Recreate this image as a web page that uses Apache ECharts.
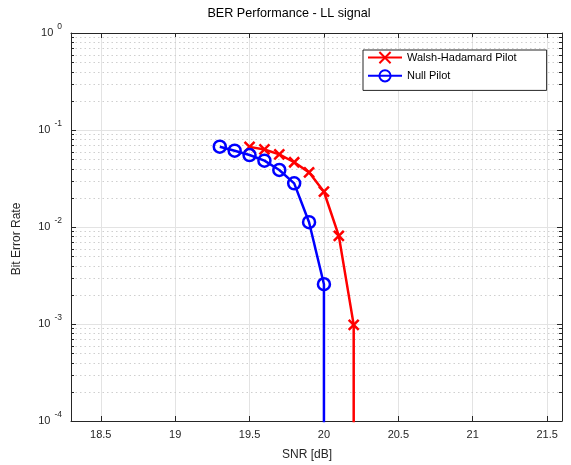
<!DOCTYPE html>
<html><head><meta charset="utf-8">
<script src="https://cdn.jsdelivr.net/npm/echarts@6.0.0/dist/echarts.min.js"></script>
<style>html,body{margin:0;padding:0;background:#fff}#c{width:571px;height:465px}</style>
</head><body><div id="c"></div>
<script>
// ---- data ----
const snrWH = [19.5, 19.6, 19.7, 19.8, 19.9, 20.0, 20.1, 20.2];
const berWH = [0.067, 0.063, 0.056, 0.0465, 0.0366, 0.0231, 0.0081, 0.00098];
const snrNull = [19.3, 19.4, 19.5, 19.6, 19.7, 19.8, 19.9, 20.0];
const berNull = [0.0673, 0.0612, 0.0552, 0.0483, 0.0387, 0.0282, 0.0112, 0.00257];
const berFloor = 1e-7; // BER falls to zero after the last measured point
const seriesNames = ['Walsh-Hadamard Pilot', 'Null Pilot'];
const titleText = 'BER Performance - LL signal';
const xName = 'SNR [dB]';
const yName = 'Bit Error Rate';
const xRange = [18.3, 21.6];
const yRange = [1e-4, 1];
const decades = [1e-4, 1e-3, 1e-2, 1e-1];
const minorMultipliers = [2, 3, 4, 5, 6, 7, 8, 9];

const axisColor = '#262626';
const minorY = [];
decades.forEach(d => minorMultipliers.forEach(m => minorY.push(m * d)));

function pts(snr, ber) {
  const d = snr.map((x, i) => [x, ber[i]]);
  d.push({ value: [snr[snr.length - 1], berFloor], symbol: 'none' });
  return d;
}
const chart = echarts.init(document.getElementById('c'), null, { renderer: 'canvas' });
const font = 'Liberation Sans, Arial, Helvetica, sans-serif';
const xBase = {
  type: 'value', min: xRange[0], max: xRange[1], splitNumber: 7,
  axisLine: { show: true, onZero: false, lineStyle: { color: axisColor, width: 1 } },
  axisTick: { show: true, inside: true, length: 5, lineStyle: { color: axisColor } },
};
const yBase = {
  type: 'log', logBase: 10, min: yRange[0], max: yRange[1],
  axisLine: { show: true, onZero: false, lineStyle: { color: axisColor, width: 1 } },
  axisTick: { show: true, inside: true, length: 5, lineStyle: { color: axisColor } },
};
chart.setOption({
  animation: false,
  textStyle: { fontFamily: font },
  graphic: [
    { type: 'text', x: 289, y: 14, style: { text: titleText, fontSize: 12.6, fontFamily: font, fill: '#000', align: 'center', verticalAlign: 'middle' } },
    { type: 'text', x: 307, y: 455, style: { text: xName, fontSize: 12, fontFamily: font, fill: axisColor, align: 'center', verticalAlign: 'middle' } },
    { type: 'text', x: 17, y: 239, rotation: Math.PI / 2, style: { text: yName, fontSize: 12, fontFamily: font, fill: axisColor, align: 'center', verticalAlign: 'middle' } }
  ],
  grid: { left: 71, right: 9, top: 33, bottom: 44, containLabel: false },
  legend: {
    orient: 'vertical', left: 363, top: 50,
    data: seriesNames,
    itemWidth: 34, itemHeight: 14, itemGap: 5,
    padding: [1, 30, 8, 4],
    backgroundColor: '#fff', borderColor: axisColor, borderWidth: 1, borderRadius: 0,
    textStyle: { fontSize: 11, color: '#000', fontFamily: font }
  },
  xAxis: [
    Object.assign({}, xBase, {
      position: 'bottom',
      axisLabel: { show: true, showMinLabel: false, showMaxLabel: false, color: axisColor, fontSize: 11, margin: 8 },
      splitLine: { show: true, lineStyle: { color: '#e3e3e3', width: 1 } }
    }),
    Object.assign({}, xBase, { position: 'top', axisLabel: { show: false }, splitLine: { show: false } })
  ],
  yAxis: [
    Object.assign({}, yBase, {
      position: 'left',
      axisLabel: {
        show: true, margin: 9, color: axisColor,
        formatter: v => '{b|10}{s|' + Math.round(Math.log10(v)) + '}',
        rich: {
          b: { fontSize: 11, color: axisColor, fontFamily: font },
          s: { fontSize: 8.5, color: axisColor, fontFamily: font, padding: [0, 0, 12, 4] }
        }
      },
      splitLine: { show: true, lineStyle: { color: '#e3e3e3', width: 1 } }
    }),
    Object.assign({}, yBase, { position: 'right', axisLabel: { show: false }, splitLine: { show: false } })
  ],
  series: [
    {
      type: 'custom', name: 'minorGrid', silent: true, clip: false, z: 1,
      xAxisIndex: 0, yAxisIndex: 0,
      data: minorY.map(v => [xRange[0], v]),
      renderItem: (params, api) => {
        const v = api.value(1);
        const p0 = api.coord([xRange[0], v]);
        const p1 = api.coord([xRange[1], v]);
        const y = Math.round(p0[1]) + 0.5;
        return {
          type: 'group', children: [
            { type: 'line', shape: { x1: p0[0], y1: y, x2: p1[0], y2: y }, style: { stroke: '#cfcfcf', lineWidth: 1, lineDash: [1.5, 3] } },
            { type: 'line', shape: { x1: p0[0], y1: y, x2: p0[0] + 3, y2: y }, style: { stroke: axisColor, lineWidth: 1 } },
            { type: 'line', shape: { x1: p1[0] - 3, y1: y, x2: p1[0], y2: y }, style: { stroke: axisColor, lineWidth: 1 } }
          ]
        };
      }
    },
    {
      name: seriesNames[0], type: 'line', xAxisIndex: 0, yAxisIndex: 0,
      data: pts(snrWH, berWH),
      symbol: 'path://M0,0L10,10M10,0L0,10', symbolSize: 10, showAllSymbol: true,
      lineStyle: { color: '#ff0000', width: 2.5 },
      itemStyle: { color: '#ff0000', borderColor: '#ff0000', borderWidth: 2.5 },
      clip: true, z: 3
    },
    {
      name: seriesNames[1], type: 'line', xAxisIndex: 0, yAxisIndex: 0,
      data: pts(snrNull, berNull),
      symbol: 'circle', symbolSize: 12, showAllSymbol: true,
      lineStyle: { color: '#0000ff', width: 2.5 },
      itemStyle: { color: 'rgba(0,0,0,0)', borderColor: '#0000ff', borderWidth: 2.5 },
      clip: true, z: 4
    }
  ]
});
</script></body></html>
